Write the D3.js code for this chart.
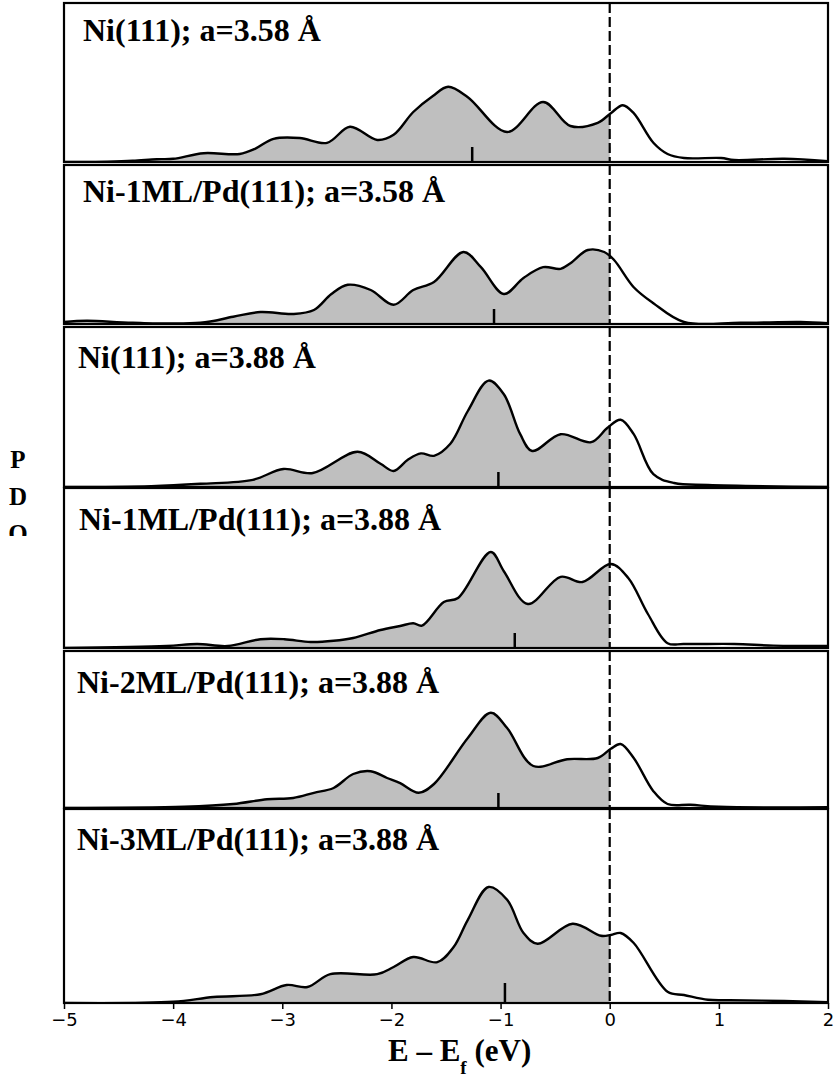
<!DOCTYPE html>
<html><head><meta charset="utf-8">
<script src="https://cdn.jsdelivr.net/npm/d3@7"></script>
<style>body{margin:0;background:#fff}</style>
</head><body><svg id="c" width="834" height="1077"></svg>
<script>
// ---------- data ----------
const panelTitles = [
  "Ni(111); a=3.58 Å",
  "Ni-1ML/Pd(111); a=3.58 Å",
  "Ni(111); a=3.88 Å",
  "Ni-1ML/Pd(111); a=3.88 Å",
  "Ni-2ML/Pd(111); a=3.88 Å",
  "Ni-3ML/Pd(111); a=3.88 Å"
];
// d-band centres (eV)
const dBandCenters = [-1.26, -1.06, -1.02, -0.87, -1.02, -0.96];
const xTicks = [-5, -4, -3, -2, -1, 0, 1, 2];
const fermiLevel = 0;

// PDOS curves: [E - Ef (eV), PDOS (arb. units)]
const pdosNi111_358 = [[-5,0],[-4.6,0.01],[-4.37,0.03],[-4.15,0.07],[-4.0,0.08],[-3.72,0.22],[-3.39,0.2],[-3.25,0.33],[-3.08,0.58],[-2.84,0.6],[-2.59,0.48],[-2.38,0.88],[-2.13,0.55],[-1.98,0.68],[-1.8,1.25],[-1.62,1.65],[-1.48,1.88],[-1.3,1.62],[-0.94,0.75],[-0.61,1.5],[-0.36,0.9],[-0.11,0.98],[0.01,1.22],[0.12,1.42],[0.22,1.22],[0.4,0.48],[0.53,0.2],[0.68,0.1],[1.02,0.1],[1.14,0.05],[1.6,0.08],[2.0,0.02]];
const pdosNi1ML_358 = [[-5,0.05],[-4.79,0.08],[-4.37,0.03],[-3.75,0.03],[-3.45,0.18],[-3.2,0.3],[-2.9,0.25],[-2.71,0.35],[-2.55,0.75],[-2.4,0.98],[-2.19,0.85],[-1.98,0.48],[-1.8,0.85],[-1.61,1.05],[-1.34,1.8],[-1.18,1.42],[-0.97,0.75],[-0.79,1.15],[-0.61,1.42],[-0.45,1.38],[-0.36,1.52],[-0.2,1.85],[-0.05,1.8],[0.04,1.6],[0.22,0.92],[0.4,0.52],[0.68,0.05],[1.2,0.03],[1.75,0.05],[2.0,0.02]];
const pdosNi111_388 = [[-5,0],[-4.2,0.02],[-3.75,0.08],[-3.27,0.18],[-2.99,0.45],[-2.72,0.35],[-2.31,0.88],[-2.1,0.58],[-1.98,0.4],[-1.85,0.68],[-1.73,0.84],[-1.61,0.78],[-1.46,1.08],[-1.3,1.9],[-1.11,2.66],[-0.97,2.32],[-0.82,1.32],[-0.71,0.9],[-0.45,1.32],[-0.17,1.12],[-0.02,1.48],[0.1,1.68],[0.22,1.32],[0.4,0.32],[0.59,0.1],[0.9,0.05],[2.0,0.0]];
const pdosNi1ML_388 = [[-5,0],[-4.06,0.05],[-3.78,0.1],[-3.5,0.05],[-3.2,0.22],[-2.98,0.22],[-2.74,0.15],[-2.53,0.18],[-2.35,0.25],[-2.1,0.45],[-1.92,0.55],[-1.8,0.62],[-1.72,0.56],[-1.52,1.15],[-1.39,1.25],[-1.09,2.4],[-0.97,1.92],[-0.75,1.1],[-0.45,1.78],[-0.25,1.65],[0.01,2.1],[0.17,1.75],[0.35,0.85],[0.53,0.12],[0.68,0.1],[1.14,0.1],[1.5,0.06],[2.0,0.05]];
const pdosNi2ML_388 = [[-5,0],[-3.9,0.03],[-3.45,0.1],[-3.14,0.22],[-2.9,0.25],[-2.71,0.38],[-2.53,0.5],[-2.35,0.85],[-2.19,0.92],[-2.04,0.75],[-1.92,0.62],[-1.75,0.38],[-1.61,0.6],[-1.3,1.75],[-1.09,2.38],[-0.94,2.0],[-0.7,1.05],[-0.39,1.22],[-0.11,1.25],[0.01,1.48],[0.1,1.6],[0.22,1.25],[0.4,0.42],[0.53,0.1],[0.74,0.08],[1.0,0.03],[2.0,0.02]];
const pdosNi3ML_388 = [[-5,0],[-4.0,0.03],[-3.63,0.15],[-3.2,0.22],[-2.96,0.45],[-2.77,0.4],[-2.56,0.72],[-2.13,0.72],[-1.98,0.9],[-1.8,1.15],[-1.58,1.02],[-1.43,1.4],[-1.3,2.08],[-1.11,2.9],[-0.94,2.58],[-0.79,1.75],[-0.66,1.48],[-0.34,1.98],[-0.08,1.68],[0.01,1.7],[0.1,1.75],[0.22,1.5],[0.53,0.28],[0.68,0.2],[0.9,0.08],[1.1,0.07],[1.6,0.05],[2.0,0.02]];
const pdosSeries = [pdosNi111_358, pdosNi1ML_358, pdosNi111_388, pdosNi1ML_388, pdosNi2ML_388, pdosNi3ML_388];

// ---------- layout ----------
const frames = [
  {top: 3,   bottom: 162, titleX: 83, titleY: 41},
  {top: 165, bottom: 324, titleX: 83, titleY: 202},
  {top: 327, bottom: 487, titleX: 78, titleY: 368},
  {top: 488, bottom: 648, titleX: 79, titleY: 530},
  {top: 651, bottom: 808, titleX: 77, titleY: 693},
  {top: 809, bottom: 1003, titleX: 77, titleY: 850}
];
const pxPerUnit = 40;
const left = 64, right = 828;

const svg = d3.select("#c");
svg.append("rect").attr("width", 834).attr("height", 1077).attr("fill", "#fff");
const x = d3.scaleLinear().domain([-5, 2]).range([left, right]);

frames.forEach((f, i) => {
  const h = f.bottom - f.top;
  const y = d3.scaleLinear().domain([0, h / pxPerUnit]).range([f.bottom, f.top]);
  const g = svg.append("g");
  const clipId = "occ" + i;
  svg.append("clipPath").attr("id", clipId).append("rect")
    .attr("x", x(-5)).attr("y", f.top).attr("width", x(fermiLevel) - x(-5)).attr("height", h);
  const frameClip = "fr" + i;
  svg.append("clipPath").attr("id", frameClip).append("rect")
    .attr("x", left).attr("y", f.top).attr("width", right - left).attr("height", h);

  const data = pdosSeries[i];
  const area = d3.area().x(d => x(d[0])).y0(y(0)).y1(d => y(d[1])).curve(d3.curveCatmullRom.alpha(0.5));
  const line = d3.line().x(d => x(d[0])).y(d => y(d[1])).curve(d3.curveCatmullRom.alpha(0.5));

  g.append("path").datum(data).attr("d", area).attr("fill", "#bfbfbf")
    .attr("clip-path", `url(#${clipId})`);
  g.append("path").datum(data).attr("d", line).attr("fill", "none")
    .attr("stroke", "#000").attr("stroke-width", 2.4).attr("clip-path", `url(#${frameClip})`);

  // d-band centre marker
  const tickLen = i === 5 ? 20 : 15;
  g.append("line").attr("x1", x(dBandCenters[i])).attr("x2", x(dBandCenters[i]))
    .attr("y1", f.bottom).attr("y2", f.bottom - tickLen)
    .attr("stroke", "#000").attr("stroke-width", 2.5);

  // Fermi level
  g.append("line").attr("x1", x(fermiLevel)).attr("x2", x(fermiLevel))
    .attr("y1", f.top).attr("y2", f.bottom)
    .attr("stroke", "#000").attr("stroke-width", 2.2).attr("stroke-dasharray", "10,4");

  // frame
  g.append("rect").attr("x", left).attr("y", f.top).attr("width", right - left).attr("height", h)
    .attr("fill", "none").attr("stroke", "#000").attr("stroke-width", 2.2);

  // title
  g.append("text").attr("x", f.titleX).attr("y", f.titleY)
    .attr("font-family", "'Liberation Serif', 'Times New Roman', serif")
    .attr("font-weight", "bold").attr("font-size", 32).text(panelTitles[i]);
});

// x axis
const last = frames[frames.length - 1];
const ax = svg.append("g").attr("transform", `translate(0,${last.bottom})`)
  .call(d3.axisBottom(x).tickValues(xTicks).tickFormat(d3.format("d")).tickSize(6).tickPadding(4));
ax.select(".domain").remove();
ax.selectAll(".tick line").attr("stroke-width", 1.5);
ax.selectAll(".tick text").attr("font-family", "'DejaVu Sans', sans-serif").attr("font-size", 18).attr("fill", "#000");

// x label
const xl = svg.append("text").attr("x", 388).attr("y", 1061)
  .attr("font-family", "'Liberation Serif', 'Times New Roman', serif")
  .attr("font-weight", "bold").attr("font-size", 31);
xl.append("tspan").text("E – E");
xl.append("tspan").attr("font-size", 19).attr("dy", 13).text("f");
xl.append("tspan").attr("dy", -13).text(" (eV)");

// y label (vertical letters, clipped)
svg.append("clipPath").attr("id", "ylc").append("rect").attr("x", 0).attr("y", 0).attr("width", 60).attr("height", 536);
const yl = svg.append("g").attr("clip-path", "url(#ylc)");
["P", "D", "O"].forEach((ch, k) => {
  yl.append("text").attr("x", 18).attr("y", 468 + k * 37).attr("text-anchor", "middle")
    .attr("font-family", "'Liberation Serif', 'Times New Roman', serif")
    .attr("font-weight", "bold").attr("font-size", 25).text(ch);
});
</script></body></html>
